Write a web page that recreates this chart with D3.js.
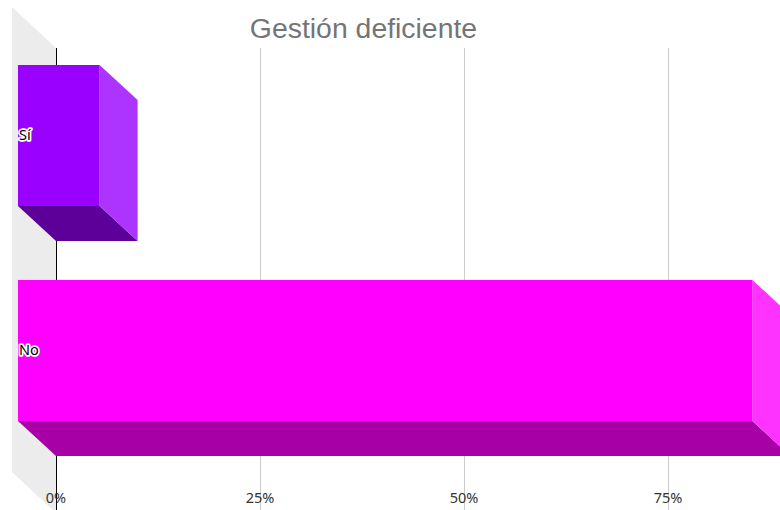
<!DOCTYPE html>
<html>
<head>
<meta charset="utf-8">
<script src="https://cdn.jsdelivr.net/npm/d3@7"></script>
<style>
  html, body { margin: 0; padding: 0; background: #fff; }
  svg { display: block; }
</style>
</head>
<body>
<div id="chart"></div>
<script>
// Survey answers and their share of responses
const categories = ["Sí", "No"];
const values = [0.10, 0.90];
const tickValues = [0, 0.25, 0.5, 0.75];
const tickLabels = ["0%", "25%", "50%", "75%"];
const frontColors = ["#9900ff", "#ff00ff"];
const sideColors = ["#ad33ff", "#ff33ff"];
const bottomColors = ["#5c0099", "#a600a6"];

const W = 780, H = 510;
const svg = d3.select("#chart").append("svg")
  .attr("width", W).attr("height", H);

// Back plane scales
const x = d3.scaleLinear().domain([0, 1]).range([56, 872]);
const y = d3.scaleBand().domain(categories)
  .range([46.25, 509.75]).paddingInner(0.344).paddingOuter(0.25);

// 3D offsets: bar front faces and the side wall come toward the viewer (up-left)
const barDx = 38, barDy = 35;
const wallDx = 44, wallDy = 41;
const plotTop = 48, plotBottom = 513;

// Left wall
svg.append("path")
  .attr("d", d3.line()([
    [x(0), plotTop], [x(0) - wallDx, plotTop - wallDy],
    [x(0) - wallDx, plotBottom - wallDy], [x(0), plotBottom]
  ]))
  .attr("fill", "#ececec");

// Vertical gridlines on the back plane
svg.append("g").selectAll("line")
  .data(tickValues.slice(1))
  .join("line")
  .attr("x1", d => x(d)).attr("x2", d => x(d))
  .attr("y1", plotTop).attr("y2", plotBottom)
  .attr("stroke", "#cccccc").attr("stroke-width", 1)
  .attr("shape-rendering", "crispEdges");

// Value axis baseline
svg.append("line")
  .attr("x1", x(0)).attr("x2", x(0))
  .attr("y1", plotTop).attr("y2", plotBottom)
  .attr("stroke", "#000").attr("stroke-width", 1)
  .attr("shape-rendering", "crispEdges");

// Tick labels
svg.append("g").selectAll("text")
  .data(tickValues)
  .join("text")
  .attr("x", d => x(d))
  .attr("y", 503)
  .attr("text-anchor", "middle")
  .attr("font-family", "'Noto Sans', 'Open Sans', sans-serif")
  .attr("font-size", 14.5)
  .attr("fill", "#333")
  .text((d, i) => tickLabels[i]);

// 3D bars
const bars = svg.append("g").selectAll("g")
  .data(categories.map((c, i) => ({ c, v: values[i], i })))
  .join("g");

bars.each(function(d) {
  const g = d3.select(this);
  const bx0 = x(0), bx1 = x(d.v);
  const by0 = y(d.c), by1 = y(d.c) + y.bandwidth();
  const fx0 = bx0 - barDx, fx1 = bx1 - barDx;
  const fy0 = by0 - barDy, fy1 = by1 - barDy;
  // bottom face
  g.append("path")
    .attr("d", d3.line()([[fx0, fy1], [fx1, fy1], [bx1, by1], [bx0, by1]]) + "Z")
    .attr("fill", bottomColors[d.i]);
  // right face
  g.append("path")
    .attr("d", d3.line()([[fx1, fy0], [bx1, by0], [bx1, by1], [fx1, fy1]]) + "Z")
    .attr("fill", sideColors[d.i]);
  // front face
  g.append("rect")
    .attr("x", fx0).attr("y", fy0)
    .attr("width", fx1 - fx0).attr("height", fy1 - fy0)
    .attr("fill", frontColors[d.i]);
  // category label with halo
  g.append("text")
    .attr("x", fx0 + 1)
    .attr("y", (fy0 + fy1) / 2 - 1)
    .attr("dy", "0.35em")
    .attr("font-family", "'Noto Sans', 'Open Sans', sans-serif")
    .attr("font-size", 14.5)
    .attr("fill", "#000")
    .attr("stroke", "#fff")
    .attr("stroke-width", 3.5)
    .attr("stroke-linejoin", "round")
    .attr("paint-order", "stroke")
    .text(d.c);
});

// Title
svg.append("text")
  .attr("x", 363.5)
  .attr("y", 38)
  .attr("text-anchor", "middle")
  .attr("font-family", "'Liberation Sans', Arial, sans-serif")
  .attr("font-size", 28.4)
  .attr("fill", "#757575")
  .text("Gestión deficiente");
</script>
</body>
</html>
